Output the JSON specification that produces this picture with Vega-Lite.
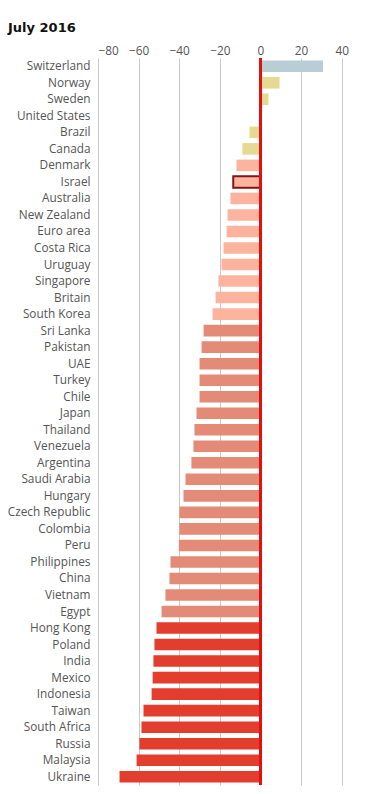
{
  "$schema": "https://vega.github.io/schema/vega-lite/v6.json",
  "width": 264,
  "height": 727,
  "autosize": {"type": "none"},
  "padding": {"left": 98, "top": 58, "right": 11, "bottom": 9},
  "background": "white",
  "title": {
    "text": "July 2016",
    "anchor": "start",
    "frame": "group",
    "dx": -90,
    "fontSize": 13,
    "font": "DejaVu Sans",
    "fontWeight": "bold",
    "color": "#111",
    "offset": 10
  },
  "config": {
    "view": {"stroke": null},
    "axis": {"labelFont": "Open Sans", "labelFontSize": 11, "labelColor": "#555", "domain": false, "ticks": false}
  },
  "data": {
    "values": [
      {"country": "Switzerland", "value": 30.8, "band": "over"},
      {"country": "Norway", "value": 9.4, "band": "near"},
      {"country": "Sweden", "value": 3.9, "band": "near"},
      {"country": "United States", "value": 0, "band": "near"},
      {"country": "Brazil", "value": -5.4, "band": "near"},
      {"country": "Canada", "value": -8.9, "band": "near"},
      {"country": "Denmark", "value": -11.8, "band": "low"},
      {"country": "Israel", "value": -13.4, "band": "low"},
      {"country": "Australia", "value": -14.8, "band": "low"},
      {"country": "New Zealand", "value": -16.2, "band": "low"},
      {"country": "Euro area", "value": -16.7, "band": "low"},
      {"country": "Costa Rica", "value": -18.2, "band": "low"},
      {"country": "Uruguay", "value": -19.2, "band": "low"},
      {"country": "Singapore", "value": -20.7, "band": "low"},
      {"country": "Britain", "value": -22.1, "band": "low"},
      {"country": "South Korea", "value": -23.6, "band": "low"},
      {"country": "Sri Lanka", "value": -28.0, "band": "mid"},
      {"country": "Pakistan", "value": -29.0, "band": "mid"},
      {"country": "UAE", "value": -30.0, "band": "mid"},
      {"country": "Turkey", "value": -30.0, "band": "mid"},
      {"country": "Chile", "value": -30.0, "band": "mid"},
      {"country": "Japan", "value": -31.5, "band": "mid"},
      {"country": "Thailand", "value": -32.5, "band": "mid"},
      {"country": "Venezuela", "value": -33.0, "band": "mid"},
      {"country": "Argentina", "value": -34.0, "band": "mid"},
      {"country": "Saudi Arabia", "value": -36.9, "band": "mid"},
      {"country": "Hungary", "value": -37.9, "band": "mid"},
      {"country": "Czech Republic", "value": -39.9, "band": "mid"},
      {"country": "Colombia", "value": -39.9, "band": "mid"},
      {"country": "Peru", "value": -40.2, "band": "mid"},
      {"country": "Philippines", "value": -44.3, "band": "mid"},
      {"country": "China", "value": -44.8, "band": "mid"},
      {"country": "Vietnam", "value": -46.8, "band": "mid"},
      {"country": "Egypt", "value": -48.7, "band": "mid"},
      {"country": "Hong Kong", "value": -51.2, "band": "deep"},
      {"country": "Poland", "value": -52.2, "band": "deep"},
      {"country": "India", "value": -52.7, "band": "deep"},
      {"country": "Mexico", "value": -53.1, "band": "deep"},
      {"country": "Indonesia", "value": -53.6, "band": "deep"},
      {"country": "Taiwan", "value": -57.6, "band": "deep"},
      {"country": "South Africa", "value": -58.6, "band": "deep"},
      {"country": "Russia", "value": -59.6, "band": "deep"},
      {"country": "Malaysia", "value": -61.0, "band": "deep"},
      {"country": "Ukraine", "value": -69.4, "band": "deep"}
    ]
  },
  "layer": [
    {
      "mark": {"type": "bar"},
      "encoding": {
        "y": {
          "field": "country",
          "type": "nominal",
          "sort": null,
          "scale": {"paddingInner": 0.3, "paddingOuter": 0.15},
          "axis": {"title": null, "labelPadding": 8, "grid": false, "labelFontSize": 11.8}
        },
        "x": {
          "field": "value",
          "type": "quantitative",
          "scale": {"domain": [-80, 50], "nice": false},
          "axis": {
            "orient": "top",
            "title": null,
            "values": [-80, -60, -40, -20, 0, 20, 40],
            "grid": true,
            "gridColor": "#c8c8c8",
            "gridWidth": 1,
            "labelPadding": 2,
            "labelFontSize": 11.8
          }
        },
        "color": {
          "field": "band",
          "type": "nominal",
          "scale": {
            "domain": ["over", "near", "low", "mid", "deep"],
            "range": ["#b8cdd6", "#e6d993", "#fdb49f", "#e38b76", "#e33d2e"]
          },
          "legend": null
        },
        "stroke": {
          "condition": {"test": "datum.country === 'Israel'", "value": "#8b1212"},
          "value": null
        },
        "strokeWidth": {
          "condition": {"test": "datum.country === 'Israel'", "value": 2},
          "value": 0
        }
      }
    },
    {
      "mark": {"type": "rule", "color": "#e3120b", "strokeWidth": 2},
      "encoding": {"x": {"datum": 0}}
    }
  ]
}
